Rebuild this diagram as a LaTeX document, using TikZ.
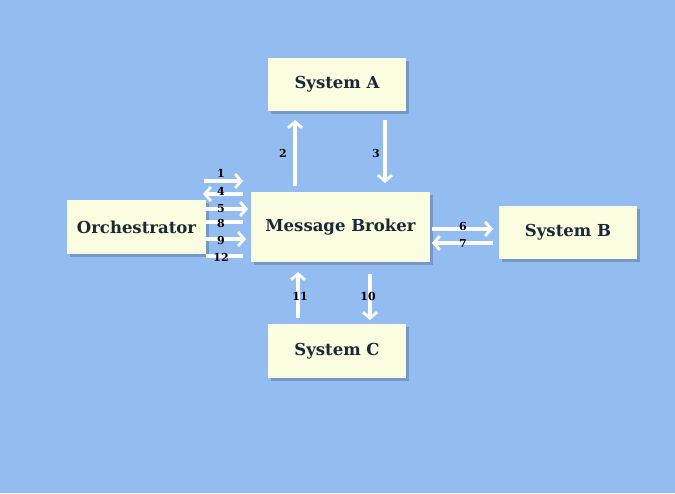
\documentclass[tikz,border=0pt]{standalone}
\usepackage{fontspec}
\setmainfont{DejaVu Serif}
\usetikzlibrary{arrows.meta,shadows}
\definecolor{bg}{HTML}{93BDF0}
\definecolor{boxfill}{HTML}{FAFDE0}
\definecolor{shad}{HTML}{6F8FBA}
\definecolor{txt}{HTML}{1B2838}
\begin{document}
\begin{tikzpicture}[x=1pt,y=-1pt,
  box/.style={fill=boxfill, draw=none, inner sep=0pt, font=\bfseries\fontsize{16.5}{18}\selectfont, text=txt,
     drop shadow={shadow xshift=3pt, shadow yshift=-3pt, fill=shad, opacity=0.8}},
  flow/.style={draw=white, line width=3.2pt, -{Straight Barb[length=6pt,width=14pt,line width=2.8pt]}},
  flowline/.style={draw=white, line width=3.2pt},
  num/.style={font=\bfseries\fontsize{11}{12}\selectfont, text=black, inner sep=0pt}]
\fill[bg] (0,0) rectangle (675,493);
\useasboundingbox (0,0) rectangle (675,493);
% boxes
\node[box, minimum width=138pt, minimum height=53pt] (A) at (337,84.5) {System A};
\node[box, minimum width=179pt, minimum height=70pt] (MB) at (340.5,227) {Message Broker};
\node[box, minimum width=138pt, minimum height=53pt] (B) at (568,232.5) {System B};
\node[box, minimum width=138pt, minimum height=54pt] (C) at (337,351) {System C};
\node[box, minimum width=139pt, minimum height=54pt] (O) at (136.5,227) {Orchestrator};
% coordinates
\coordinate (a2s) at (295,186); \coordinate (a2e) at (295,120);
\coordinate (a3s) at (385,120); \coordinate (a3e) at (385,183);
\coordinate (a1s) at (204,181); \coordinate (a1e) at (243,181);
\coordinate (a4s) at (243,194); \coordinate (a4e) at (203,194);
\coordinate (a5s) at (204,209); \coordinate (a5e) at (248,209);
\coordinate (a8s) at (243,222); \coordinate (a8e) at (206,222);
\coordinate (a9s) at (204,239); \coordinate (a9e) at (246,239);
\coordinate (a12s) at (243,256); \coordinate (a12e) at (206,256);
\coordinate (a6s) at (432,229); \coordinate (a6e) at (493,229);
\coordinate (a7s) at (493,243); \coordinate (a7e) at (432,243);
\coordinate (a11s) at (298,318); \coordinate (a11e) at (298,272);
\coordinate (a10s) at (370,274); \coordinate (a10e) at (370,320);
% arrows
\draw[flow] (a2s) -- (a2e);
\draw[flow] (a3s) -- (a3e);
\draw[flow] (a1s) -- (a1e);
\draw[flow] (a4s) -- (a4e);
\draw[flow] (a5s) -- (a5e);
\draw[flowline] (a8s) -- (a8e);
\draw[flow] (a9s) -- (a9e);
\draw[flowline] (a12s) -- (a12e);
\draw[flow] (a6s) -- (a6e);
\draw[flow] (a7s) -- (a7e);
\draw[flow] (a11s) -- (a11e);
\draw[flow] (a10s) -- (a10e);
% labels
\node[num] (l1) at (221,173) {1};
\node[num] (l4) at (221,191) {4};
\node[num] (l5) at (221,209) {5};
\node[num] (l8) at (221,223) {8};
\node[num] (l9) at (221,240) {9};
\node[num] (l12) at (221,257) {12};
\node[num] (l2) at (283,153) {2};
\node[num] (l3) at (376,153) {3};
\node[num] (l6) at (463,226) {6};
\node[num] (l7) at (463,243) {7};
\node[num] (l11) at (300,296) {11};
\node[num] (l10) at (368,296) {10};
\end{tikzpicture}
\end{document}
